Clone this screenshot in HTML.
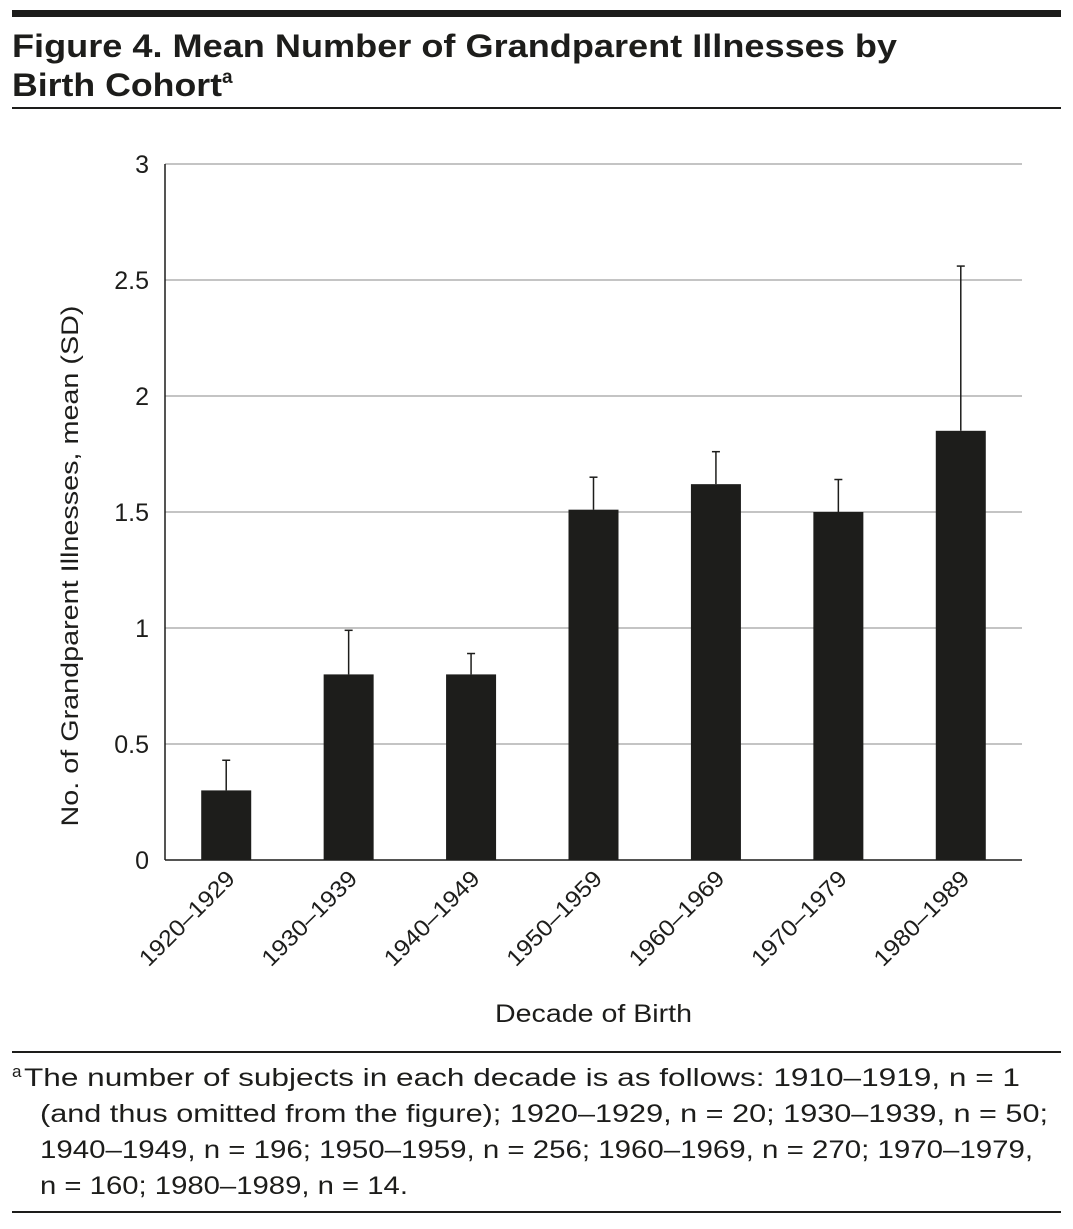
<!DOCTYPE html>
<html><head><meta charset="utf-8">
<style>
body{margin:0;background:#fff;width:1073px;height:1224px;overflow:hidden;font-family:"Liberation Sans",sans-serif;color:#1d1d1b}
</style></head>
<body>
<svg id="fig" width="1073" height="1224" xmlns="http://www.w3.org/2000/svg" font-family="Liberation Sans, sans-serif">
<rect x="12" y="10" width="1049" height="7" fill="#1d1d1b"/>
<text x="12" y="57" font-size="32" font-weight="bold" fill="#1d1d1b" textLength="885" lengthAdjust="spacingAndGlyphs">Figure 4. Mean Number of Grandparent Illnesses by</text>
<text x="12" y="96" font-size="32" font-weight="bold" fill="#1d1d1b"><tspan textLength="210" lengthAdjust="spacingAndGlyphs">Birth Cohort</tspan><tspan font-size="19" dy="-13">a</tspan></text>
<rect x="12" y="107" width="1049" height="2" fill="#1d1d1b"/>
<g id="plot"></g>
<text transform="translate(78,566) rotate(-90)" text-anchor="middle" font-size="24" fill="#1d1d1b" textLength="521" lengthAdjust="spacingAndGlyphs">No. of Grandparent Illnesses, mean (SD)</text>
<text x="495" y="1022" font-size="25" fill="#1d1d1b" textLength="197" lengthAdjust="spacingAndGlyphs">Decade of Birth</text>
<rect x="12" y="1051" width="1049" height="2" fill="#1d1d1b"/>
<g font-size="25" fill="#1d1d1b">
<text x="12" y="1086" font-size="17" dy="-9">a</text>
<text x="24" y="1086" textLength="996" lengthAdjust="spacingAndGlyphs">The number of subjects in each decade is as follows: 1910–1919, n = 1</text>
<text x="40" y="1122" textLength="1008" lengthAdjust="spacingAndGlyphs">(and thus omitted from the figure); 1920–1929, n = 20; 1930–1939, n = 50;</text>
<text x="40" y="1158" textLength="993" lengthAdjust="spacingAndGlyphs">1940–1949, n = 196; 1950–1959, n = 256; 1960–1969, n = 270; 1970–1979,</text>
<text x="40" y="1194" textLength="368" lengthAdjust="spacingAndGlyphs">n = 160; 1980–1989, n = 14.</text>
</g>
<rect x="12" y="1211" width="1049" height="2" fill="#1d1d1b"/>
</svg>
<script>
const categories=["1920–1929","1930–1939","1940–1949","1950–1959","1960–1969","1970–1979","1980–1989"];
const means=[0.30,0.80,0.80,1.51,1.62,1.50,1.85];
const sds=[0.13,0.19,0.09,0.14,0.14,0.14,0.71];
const yTicks=[0,0.5,1,1.5,2,2.5,3];
const yTickLabels=["0","0.5","1","1.5","2","2.5","3"];
const NS="http://www.w3.org/2000/svg";
const L=165,R=1022,T=164,B=860,yMax=3;
const y=v=>B-(v/yMax)*(B-T);
const band=(R-L)/categories.length;
const xc=i=>L+band*(i+0.5);
const g=document.getElementById('plot');
function mk(t,a){const e=document.createElementNS(NS,t);for(const k in a)e.setAttribute(k,a[k]);g.appendChild(e);return e;}
yTicks.forEach((v,i)=>{
  if(v>0){const ln=mk('line',{x1:L,x2:R,y1:y(v),y2:y(v),stroke:'#8a8a8a','stroke-width':1});
  
  }
  const t=mk('text',{x:149,y:y(v)+9,'text-anchor':'end','font-size':25,fill:'#1d1d1b'});
  t.textContent=yTickLabels[i];
  
  
});
const ya=mk('line',{x1:L,x2:L,y1:T,y2:B,stroke:'#1d1d1b','stroke-width':1.5});


const xa=mk('line',{x1:L,x2:R,y1:B,y2:B,stroke:'#1d1d1b','stroke-width':1.5});


categories.forEach((c,i)=>{
  const cx=xc(i),w=50;
  const eb=mk('line',{x1:cx,x2:cx,y1:y(means[i]),y2:y(means[i]+sds[i]),stroke:'#1d1d1b','stroke-width':1.5});
  
  
  const cap=mk('line',{x1:cx-4,x2:cx+4,y1:y(means[i]+sds[i]),y2:y(means[i]+sds[i]),stroke:'#1d1d1b','stroke-width':1.5});
  
  
  const r=mk('rect',{x:cx-w/2,y:y(means[i]),width:w,height:B-y(means[i]),fill:'#1d1d1b'});
  
  
  const t=mk('text',{transform:`translate(${cx+10},${B+20}) rotate(-45)`,'text-anchor':'end','font-size':23,fill:'#1d1d1b',textLength:124,lengthAdjust:'spacingAndGlyphs'});
  t.textContent=c;
  
  
});
</script>
</body></html>
